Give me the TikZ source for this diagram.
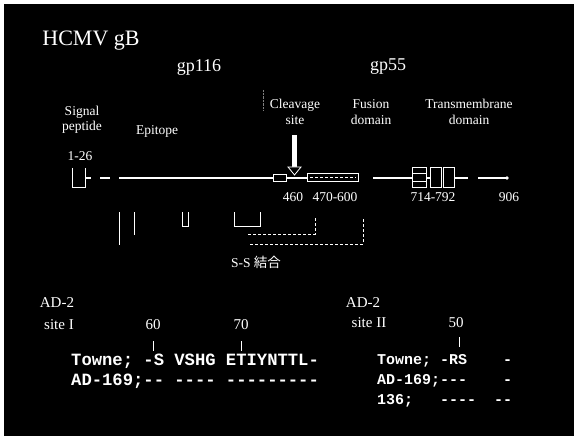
\documentclass[tikz,border=0pt]{standalone}
\usepackage{fontspec}
\setmainfont{Liberation Serif}
\newfontfamily\seqfont{Liberation Mono}
\newfontfamily\cjk{Noto Sans CJK JP}
\newcommand{\fsz}[1]{\fontsize{#1}{#1}\selectfont}
\tikzset{
  lbl/.style={text=white,inner sep=0pt,align=center,font=\fsz{13.5}},
  seqa/.style={text=white,inner sep=0pt,anchor=west,font=\seqfont\bfseries\fsz{17.2}},
  seqb/.style={text=white,inner sep=0pt,anchor=west,font=\seqfont\bfseries\fsz{15}},
  prot/.style={draw=white,line width=0.9pt},
  chain/.style={white,line width=1.6pt},
  ssbond/.style={white,line width=0.8pt}
}
\begin{document}
\begin{tikzpicture}[x=1pt,y=-1pt]
\useasboundingbox (0,0) rectangle (574,436);
\fill[white] (0,0) rectangle (574,436);
\fill[black] (4,4) rectangle (574,436);

% Titre
\node[lbl,font=\fsz{22}] (title) at (91,41) {HCMV gB};
\node[lbl,font=\fsz{18}] (gpa) at (199,67) {gp116};
\node[lbl,font=\fsz{18}] (gpb) at (388,67) {gp55};

% Domaines
\node[lbl] (signal) at (82,120) {Signal\\[2pt]peptide};
\node[lbl] (epitope) at (157,131) {Epitope};
\node[lbl] (cleavage) at (295,112) {Cleavage\\[2pt]site};
\node[lbl] (fusion) at (371,112) {Fusion\\[2pt]domain};
\node[lbl] (tm) at (469,112) {Transmembrane\\[2pt]domain};
\draw[gray,densely dotted] (263,90) -- (263,110);

% Chaine
\draw[prot] (72,168) -- (72,187) -- (85,187) -- (85,168);
\draw[chain] (85,178) -- (91,178);
\draw[chain] (100,178) -- (110,178);
\draw[chain] (119,178) -- (273,178);
\draw[prot] (273,174) rectangle (286,181);
\draw[chain] (286,178) -- (307,178);
\draw[prot] (307,173) rectangle (358,181);
\draw[white,densely dashed,line width=0.6pt] (310,177) -- (356,177);
\draw[chain] (373,178) -- (412,178);
\draw[prot] (412,167) rectangle (426,187);
\foreach \y in {173,181}
{
\draw[prot] (412,\y) -- (426,\y);
}
\draw[chain] (426,178) -- (430,178);
\foreach \x/\w in {430/441,443/454}
{
\draw[prot] (\x,167) rectangle (\w,187);
}
\draw[chain] (454,178) -- (468,178);
\draw[chain] (478,178) -- (507,178);
\fill[white] (507,178) circle (1.8);

% Site de clivage
\coordinate (arrtop) at (294.5,135);
\coordinate (arrtip) at (294.5,175);
\fill[white] (292,135) rectangle (297,167);
\draw[white,fill=black,line width=0.8pt] (288,167) -- (301,167) -- (arrtip) -- cycle;

% Positions
\node[lbl] (pa) at (80,156) {1-26};
\node[lbl] (pb) at (293,197) {460};
\node[lbl] (pc) at (335,197) {470-600};
\node[lbl] (pd) at (433,197) {714-792};
\node[lbl] (pe) at (509,197) {906};

% Ponts S-S
\draw[ssbond] (119,212) -- (119,245);
\draw[ssbond] (134,212) -- (134,235);
\draw[ssbond] (182,212) -- (182,226) -- (188,226) -- (188,212);
\draw[ssbond] (234,212) -- (234,226) -- (260,226) -- (260,212);
\draw[ssbond,densely dashed] (248,234) -- (315,234) -- (315,218);
\draw[ssbond,densely dashed] (250,244) -- (363,244) -- (363,218);
\node[lbl] (ss) at (256,262) {S-S {\cjk 結合}};

% AD-2 site I
\node[lbl,font=\fsz{15}] (ada) at (57,303) {AD-2};
\node[lbl,font=\fsz{15}] (sitea) at (59,325) {site I};
\node[lbl,font=\fsz{15}] (nsixty) at (153,325) {60};
\node[lbl,font=\fsz{15}] (nseventy) at (241,325) {70};
\foreach \x in {153,241}
{
\draw[white,line width=0.9pt] (\x,341) -- (\x,351);
}
\node[seqa] (townea) at (71,361) {Towne;~-S~VSHG~ETIYNTTL-};
\node[seqa] (adsa) at (71,381) {AD-169;--~----~---------};

% AD-2 site II
\node[lbl,font=\fsz{15}] (adb) at (363,303) {AD-2};
\node[lbl,font=\fsz{15}] (siteb) at (369,323) {site II};
\node[lbl,font=\fsz{15}] (nfifty) at (456,323) {50};
\draw[white,line width=0.9pt] (459,337) -- (459,347);
\node[seqb] (towneb) at (377,361) {Towne;~-RS~~~~-};
\node[seqb] (adsb) at (377,381) {AD-169;---~~~~-};
\node[seqb] (strb) at (377,401) {136;~~~----~~--};

\end{tikzpicture}
\end{document}
